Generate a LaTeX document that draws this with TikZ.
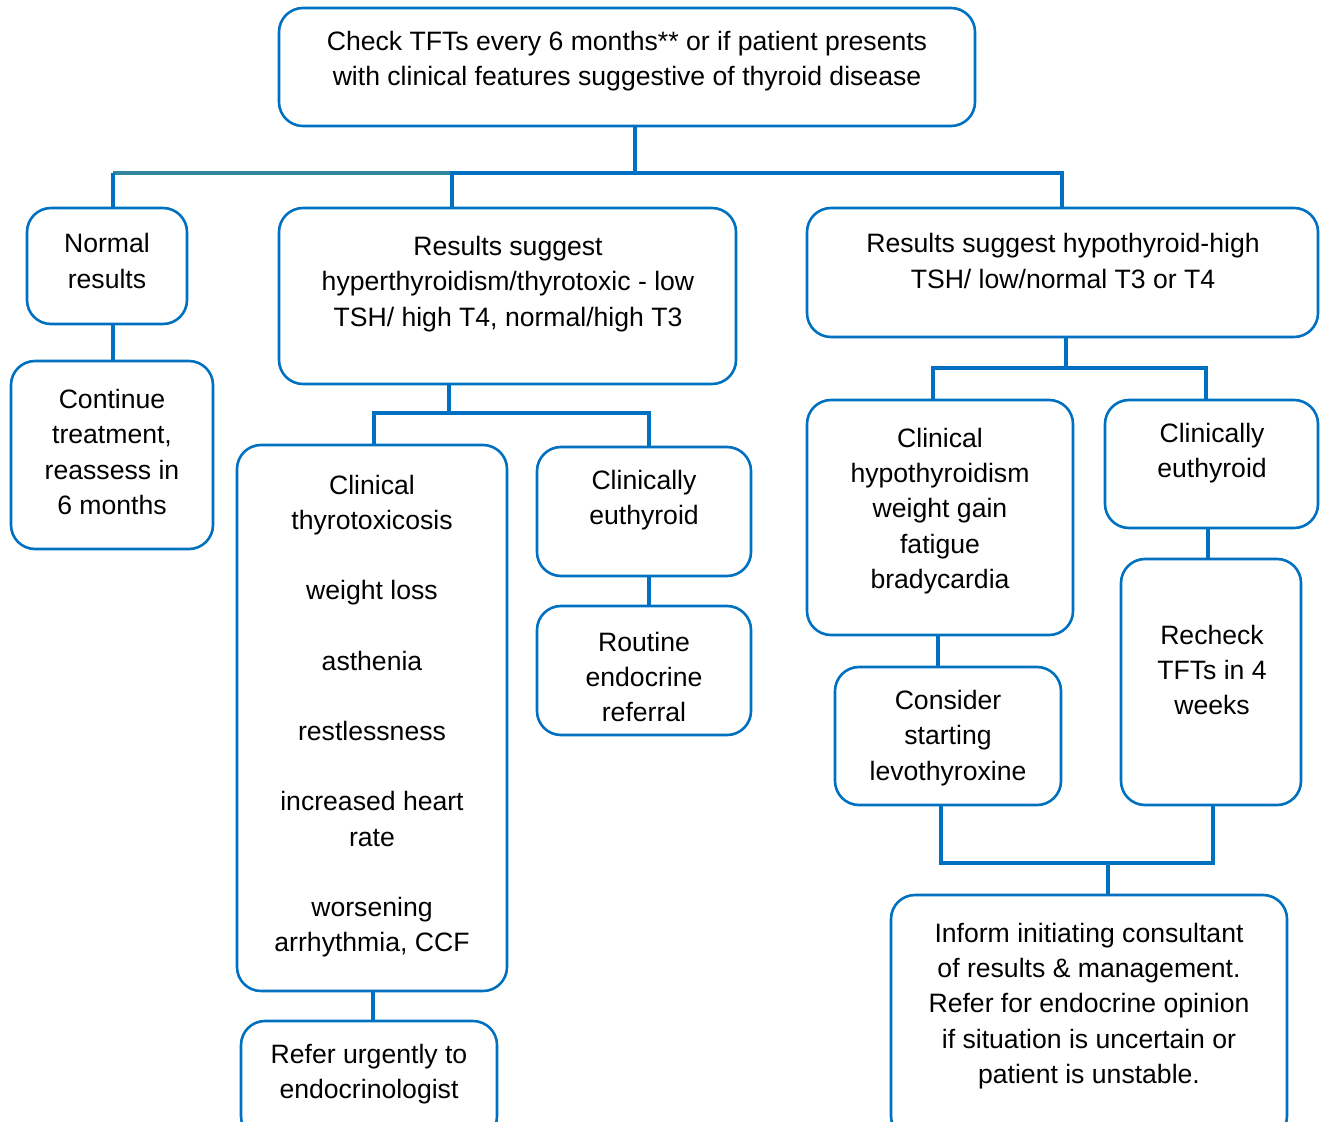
\documentclass[tikz,border=0pt]{standalone}
\usepackage{fontspec}
\setmainfont{Liberation Sans}
\usetikzlibrary{fit}
\definecolor{boxblue}{HTML}{0070C0}
\definecolor{barteal}{HTML}{31859C}
\begin{document}
\begin{tikzpicture}[x=0.5pt,y=-0.5pt,
  box/.style={draw=boxblue, line width=1.3pt, rounded corners=12pt, inner sep=0pt},
  txt/.style={align=center, inner sep=0pt, font=\fontsize{13.3}{17.6}\selectfont, text=black},
  conn/.style={draw=boxblue, line width=2.4pt, line join=miter, line cap=rect},
  thin/.style={draw=boxblue, line width=2pt}]
\clip (0,0) rectangle (1320,1122);
% boxes
\node[box, fit={(279,8) (975,126)}] (top) {};
\node[box, fit={(27,208) (187,324)}] (normal) {};
\node[box, fit={(11,361) (213,549)}] (cont) {};
\node[box, fit={(279,208) (736,384)}] (hyper) {};
\node[box, fit={(807,208) (1318,337)}] (hypo) {};
\node[box, fit={(237,445) (507,991)}] (thyro) {};
\node[box, fit={(537,447) (751,576)}] (euthA) {};
\node[box, fit={(537,606) (751,735)}] (routine) {};
\node[box, fit={(241,1021) (497,1140)}] (refer) {};
\node[box, fit={(807,400) (1073,635)}] (chypo) {};
\node[box, fit={(1105,400) (1318,528)}] (euthB) {};
\node[box, fit={(835,667) (1061,805)}] (consider) {};
\node[box, fit={(1121,559) (1301,805)}] (recheck) {};
\node[box, fit={(891,895) (1287,1140)}] (inform) {};
% texts
\node[txt] (t-top) at (627,61) {Check TFTs every 6 months** or if patient presents\\with clinical features suggestive of thyroid disease};
\node[txt] (t-normal) at (107,261) {Normal\\results};
\node[txt] (t-cont) at (112,452) {Continue\\treatment,\\reassess in\\6 months};
\node[txt] (t-hyper) at (508,284) {Results suggest\\hyperthyroidism/thyrotoxic - low\\TSH/ high T4, normal/high T3};
\node[txt] (t-hypo) at (1063,261) {Results suggest hypothyroid-high\\TSH/ low/normal T3 or T4};
\node[txt] (t-thyro) at (372,716) {Clinical\\thyrotoxicosis\\\mbox{}\\weight loss\\\mbox{}\\asthenia\\\mbox{}\\restlessness\\\mbox{}\\increased heart\\rate\\\mbox{}\\worsening\\arrhythmia, CCF};
\node[txt] (t-euthA) at (644,500) {Clinically\\euthyroid};
\node[txt] (t-routine) at (644,677) {Routine\\endocrine\\referral};
\node[txt] (t-refer) at (369,1074) {Refer urgently to\\endocrinologist};
\node[txt] (t-chypo) at (940,511) {Clinical\\hypothyroidism\\weight gain\\fatigue\\bradycardia};
\node[txt] (t-euthB) at (1212,453) {Clinically\\euthyroid};
\node[txt] (t-consider) at (948,738) {Consider\\starting\\levothyroxine};
\node[txt] (t-recheck) at (1212,670) {Recheck\\TFTs in 4\\weeks};
\node[txt] (t-inform) at (1089,1006) {Inform initiating consultant\\of results \& management.\\Refer for endocrine opinion\\if situation is uncertain or\\patient is unstable.};
% junctions
\coordinate (jA) at (635,173);
\coordinate (jL) at (113,173);
\coordinate (jM) at (452,173);
\coordinate (jR) at (1062,173);
\coordinate (hB) at (449,413);
\coordinate (hL) at (374,413);
\coordinate (hR) at (649,413);
\coordinate (yB) at (1066,368);
\coordinate (yL) at (933,368);
\coordinate (yR) at (1206,368);
\coordinate (bL) at (941,863);
\coordinate (bR) at (1213,863);
\coordinate (bM) at (1108,863);
% top tree
\draw[thin] (top.south -| jA) -- (jA);
\draw[conn, draw=barteal, line cap=butt] (jL) -- (jM);
\draw[conn] (jM) -- (jR);
\draw[conn, line cap=butt] (jL |- normal.north) -- (jL);
\draw[conn, line cap=butt] (jM |- hyper.north) -- (jM);
\draw[conn, line cap=butt] (jR |- hypo.north) -- (jR);
\draw[conn, line cap=butt] (normal.south -| jL) -- (cont.north -| jL);
% hyper tree
\draw[thin] (hyper.south -| hB) -- (hB);
\draw[conn] (thyro.north -| hL) -- (hL) -- (hR) -- (euthA.north -| hR);
\draw[conn, line cap=butt] (euthA.south -| hR) -- (routine.north -| hR);
\draw[conn, line cap=butt] (thyro.south -| 373,0) -- (refer.north -| 373,0);
% hypo tree
\draw[thin] (hypo.south -| yB) -- (yB);
\draw[conn] (chypo.north -| yL) -- (yL) -- (yR) -- (euthB.north -| yR);
\draw[conn, line cap=butt] (chypo.south -| 938,0) -- (consider.north -| 938,0);
\draw[conn, line cap=butt] (euthB.south -| 1208,0) -- (recheck.north -| 1208,0);
\draw[conn] (consider.south -| bL) -- (bL) -- (bR) -- (recheck.south -| bR);
\draw[thin] (bM) -- (inform.north -| bM);
\end{tikzpicture}
\end{document}
